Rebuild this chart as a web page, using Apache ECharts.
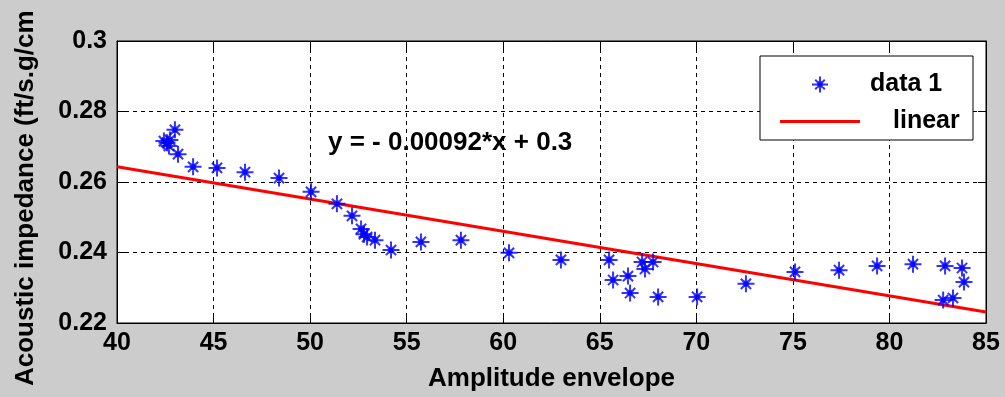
<!DOCTYPE html>
<html><head><meta charset="utf-8">
<script src="https://cdn.jsdelivr.net/npm/echarts@6/dist/echarts.min.js"></script>
<style>html,body{margin:0;padding:0;background:#cccccc;}#c{width:1005px;height:397px;}</style>
</head><body><div id="c"></div>
<script>
// Scatter data ("data 1")
const ampX = [43.00, 42.43, 42.59, 42.69, 42.74, 43.16, 43.94, 45.18, 46.63, 48.39,
  50.05, 51.39, 52.17, 52.64, 52.79, 52.95, 53.36, 54.19, 55.74, 57.81,
  60.30, 62.99, 65.48, 65.69, 66.46, 66.57, 67.19, 67.34, 67.76, 68.02,
  70.04, 72.57, 75.11, 77.39, 79.36, 81.22, 82.88, 83.76, 83.86, 82.78, 83.29];
const impY = [0.2748, 0.2716, 0.2711, 0.2702, 0.2719, 0.2679, 0.2643, 0.2640, 0.2628, 0.2611,
  0.2572, 0.2538, 0.2504, 0.2467, 0.2452, 0.2444, 0.2435, 0.2407, 0.2430, 0.2435,
  0.2399, 0.2379, 0.2379, 0.2322, 0.2333, 0.2285, 0.2373, 0.2353, 0.2373, 0.2274,
  0.2274, 0.2311, 0.2345, 0.2350, 0.2362, 0.2367, 0.2362, 0.2356, 0.2316, 0.2265, 0.2271];
// Linear fit end points
const fitX = [40, 85];
const fitY = [0.2643, 0.2231];
const equationText = 'y = - 0.00092*x + 0.3';
const xTitle = 'Amplitude envelope';
const yTitle = 'Acoustic impedance (ft/s.g/cm';
const seriesNames = ['data 1', 'linear'];

const FONT = '"Liberation Sans", Arial, sans-serif';
const scatterData = ampX.map((x, i) => [x, impY[i]]);
const lineData = fitX.map((x, i) => [x, fitY[i]]);
const star = 'path://M0,-10L0,10M-10,0L10,0M-6,-6L6,6M-6,6L6,-6M-3,0A3,3,0,1,0,3,0A3,3,0,1,0,-3,0Z';
const lineIcon = 'path://M0,0L0.01,0L0.01,0.01L0,0.01Z M0,5.5L80,5.5L80,8.5L0,8.5Z M79.99,13.99L80,13.99L80,14L79.99,14Z';

const chart = echarts.init(document.getElementById('c'), null, {renderer: 'canvas'});
const axisCommon = {
  axisLine: {show: true, onZero: false, lineStyle: {color: '#000', width: 1}},
  axisTick: {show: true, inside: true, length: 8, lineStyle: {color: '#000', width: 1}},
};
chart.setOption({
  backgroundColor: '#cccccc',
  animation: false,
  grid: {left: 117, right: 19, top: 41, bottom: 74, show: true, backgroundColor: '#fff', borderColor: '#000', borderWidth: 1},
  xAxis: [
    Object.assign({type: 'value', position: 'bottom', min: 40, max: 85, interval: 5,
      axisLabel: {color: '#000', fontFamily: FONT, fontWeight: 'bold', fontSize: 25, margin: 8},
      splitLine: {show: true, lineStyle: {color: '#000', type: [4, 4], width: 1}},
      name: xTitle, nameLocation: 'middle', nameGap: 43,
      nameTextStyle: {color: '#000', fontFamily: FONT, fontWeight: 'bold', fontSize: 26}
    }, axisCommon),
    Object.assign({type: 'value', position: 'top', min: 40, max: 85, interval: 5,
      axisLabel: {show: false}, splitLine: {show: false}}, axisCommon)
  ],
  yAxis: [
    Object.assign({type: 'value', position: 'left', min: 0.22, max: 0.3, interval: 0.02,
      axisLabel: {color: '#000', fontFamily: FONT, fontWeight: 'bold', fontSize: 25, margin: 10},
      splitLine: {show: true, lineStyle: {color: '#000', type: [4, 4], width: 1}}
    }, axisCommon),
    Object.assign({type: 'value', position: 'right', min: 0.22, max: 0.3, interval: 0.02,
      axisLabel: {show: false}, splitLine: {show: false}}, axisCommon)
  ],
  legend: {
    show: true, orient: 'vertical', left: 775, top: 67, z: 10,
    itemWidth: 80, itemHeight: 16, itemGap: 12,
    data: [{name: seriesNames[0]}, {name: seriesNames[1], icon: lineIcon}],
    textStyle: {color: '#000', fontFamily: FONT, fontWeight: 'bold', fontSize: 25, lineHeight: 22,
      rich: {a: {fontFamily: FONT, fontWeight: 'bold', fontSize: 25, padding: [0, 0, 0, 5]},
             b: {fontFamily: FONT, fontWeight: 'bold', fontSize: 25, padding: [0, 0, 0, 28]}}},
    formatter: n => n === 'linear' ? '{b|' + n + '}' : '{a|' + n + '}'
  },
  graphic: [
    {type: 'rect', z: 5, shape: {x: 760, y: 56, width: 213, height: 84},
      style: {fill: '#fff', stroke: '#000', lineWidth: 1}},
    {type: 'text', z: 6, x: 328, y: 143,
      style: {text: equationText, fill: '#000', font: 'bold 26px ' + FONT, textVerticalAlign: 'middle', textAlign: 'left'}},
    {type: 'text', z: 6, x: 26, y: 386, rotation: Math.PI / 2,
      style: {text: yTitle, fill: '#000', font: 'bold 26px ' + FONT, textVerticalAlign: 'middle', textAlign: 'left'}}
  ],
  series: [
    {name: seriesNames[0], type: 'scatter', data: scatterData, symbol: star, symbolSize: 17,
      itemStyle: {color: '#0000ff', borderColor: '#0000ff', borderWidth: 2}, z: 3},
    {name: seriesNames[1], type: 'line', data: lineData, showSymbol: false, symbol: 'none',
      lineStyle: {color: '#ff0000', width: 3}, itemStyle: {color: '#ff0000'}, z: 2}
  ]
});
</script></body></html>
